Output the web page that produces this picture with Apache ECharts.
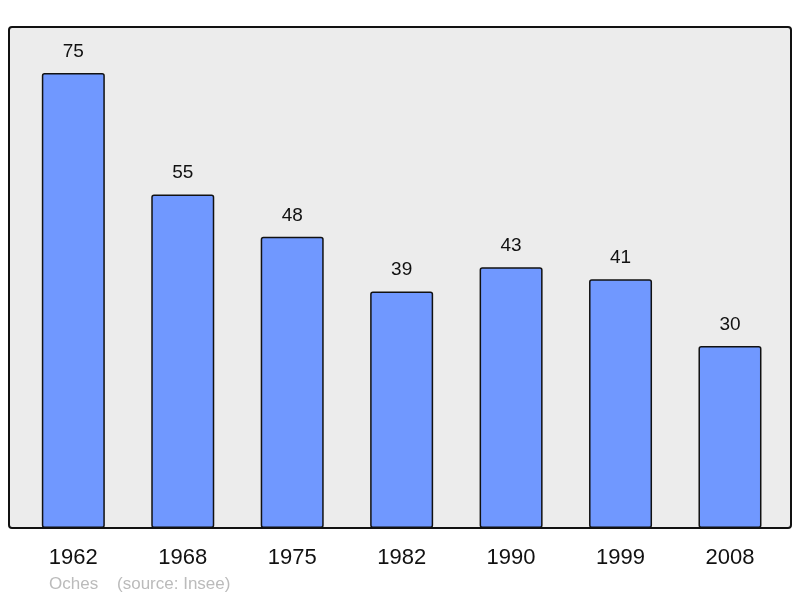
<!DOCTYPE html>
<html>
<head>
<meta charset="utf-8">
<script src="https://cdn.jsdelivr.net/npm/echarts@6/dist/echarts.min.js"></script>
<style>
  html, body { margin: 0; padding: 0; background: #fff; }
  #chart { width: 800px; height: 598px; }
</style>
</head>
<body>
<div id="chart"></div>
<script>
// années et population
var years = ['1962', '1968', '1975', '1982', '1990', '1999', '2008'];
var population = [75, 55, 48, 39, 43, 41, 30];
var footer = 'Oches    (source: Insee)';

var chart = echarts.init(document.getElementById('chart'));

var option = {
    animation: false,
    backgroundColor: '#ffffff',
    textStyle: { fontFamily: 'Liberation Sans, Arial, sans-serif' },
    graphic: [
        {
            type: 'rect',
            z: -10,
            shape: { x: 9, y: 27, width: 782, height: 501, r: 3 },
            style: { fill: '#ececec', stroke: '#111', lineWidth: 2 }
        },
        {
            type: 'text',
            left: 49,
            top: 576,
            style: { text: footer, fill: '#bbbbbb', font: '17px Liberation Sans, Arial, sans-serif' }
        }
    ],
    grid: { left: 18.6, right: 15.3, top: 27, bottom: 70, containLabel: false },
    xAxis: {
        type: 'category',
        data: years,
        axisLine: { show: false },
        axisTick: { show: false },
        axisLabel: { color: '#111', fontSize: 22, margin: 19 }
    },
    yAxis: {
        type: 'value',
        min: 0,
        max: 82.6,
        show: false,
        splitLine: { show: false }
    },
    series: [{
        type: 'bar',
        data: population,
        barWidth: 63,
        itemStyle: {
            color: '#7098ff',
            borderColor: '#111',
            borderWidth: 1.5,
            borderRadius: 2
        },
        label: {
            show: true,
            position: 'top',
            distance: 12,
            color: '#111',
            fontSize: 19
        }
    }]
};

chart.setOption(option);
</script>
</body>
</html>
